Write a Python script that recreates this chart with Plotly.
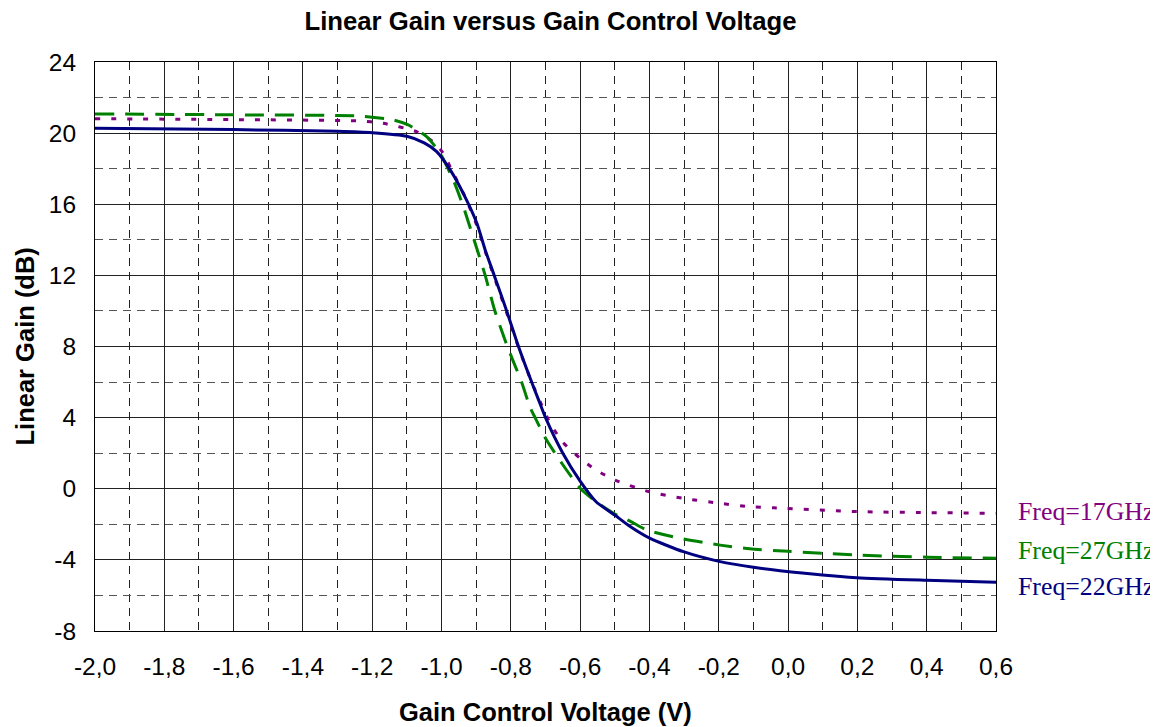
import plotly.graph_objects as go

# ---- data ----
x22 = [-2.0, -1.6, -1.3, -1.2, -1.1, -1.05, -1.014, -0.975, -0.937, -0.898, -0.874, -0.848, -0.812,
       -0.778, -0.74, -0.72, -0.7, -0.65, -0.6, -0.554, -0.5, -0.46, -0.398, -0.302, -0.196, -0.1,
       -0.023, 0.198, 0.4, 0.6]
y22 = [20.27, 20.2, 20.1, 20.02, 19.82, 19.45, 18.96, 17.93, 16.6, 14.93, 13.43, 12.0, 10.0,
       8.0, 6.0, 5.0, 4.0, 2.0, 0.43, -0.73, -1.48, -2.06, -2.79, -3.54, -4.1, -4.42,
       -4.61, -5.0, -5.15, -5.26]

x27 = [-2.0, -1.6, -1.235, -1.139, -1.096, -1.043, -1.004, -0.966, -0.937, -0.898, -0.874, -0.846,
       -0.81, -0.769, -0.745, -0.73, -0.7, -0.65, -0.6, -0.554, -0.5, -0.456, -0.408, -0.312,
       -0.196, -0.11, 0.0, 0.198, 0.4, 0.6]
y27 = [21.08, 21.03, 20.96, 20.74, 20.46, 19.8, 18.86, 17.36, 15.86, 13.5, 12.0, 10.0,
       8.0, 6.0, 4.6, 4.0, 2.84, 1.35, 0.03, -0.73, -1.42, -1.82, -2.32, -2.79,
       -3.17, -3.38, -3.52, -3.73, -3.85, -3.91]

x17 = [-2.0, -1.6, -1.235, -1.168, -1.072, -1.019, -0.995, -0.966, -0.932, -0.898, -0.874, -0.848,
       -0.812, -0.778, -0.74, -0.72, -0.687, -0.65, -0.6, -0.554, -0.5, -0.4, -0.302, -0.196,
       -0.11, -0.042, 0.208, 0.4, 0.6]
y17 = [20.81, 20.76, 20.68, 20.55, 20.08, 19.43, 18.86, 17.74, 16.42, 14.8, 13.35, 11.9,
       9.9, 7.95, 6.0, 5.1, 3.7, 2.62, 1.71, 1.05, 0.49, -0.17, -0.54, -0.82,
       -1.01, -1.07, -1.29, -1.34, -1.38]

xtick_vals = [-2.0, -1.8, -1.6, -1.4, -1.2, -1.0, -0.8, -0.6, -0.4, -0.2, 0.0, 0.2, 0.4, 0.6]
xtick_text = ["-2,0", "-1,8", "-1,6", "-1,4", "-1,2", "-1,0", "-0,8", "-0,6", "-0,4", "-0,2",
              "0,0", "0,2", "0,4", "0,6"]
ytick_vals = [-8, -4, 0, 4, 8, 12, 16, 20, 24]
ytick_text = ["-8", "-4", "0", "4", "8", "12", "16", "20", "24"]

series = [
    ("Freq=17GHz", x17, y17, "#800080", "5px,11px", -1.29),
    ("Freq=27GHz", x27, y27, "#008000", "19px,11px", -3.45),
    ("Freq=22GHz", x22, y22, "#000080", "solid", -5.5),
]

fig = go.Figure()
for name, xs, ys, col, dash, ly in series:
    fig.add_trace(go.Scatter(x=xs, y=ys, mode="lines", name=name,
                             line=dict(color=col, width=3, dash=dash, shape="spline", smoothing=0.6)))

annotations = []
for name, xs, ys, col, dash, ly in series:
    annotations.append(dict(text=name, xref="paper", yref="y", x=1.022, y=ly,
                            xanchor="left", yanchor="middle", showarrow=False,
                            font=dict(family="Liberation Serif", size=25.8, color=col)))

annotations.append(dict(text="<b>Gain Control Voltage (V)</b>", xref="paper", yref="paper",
                        x=0.5, y=-0.1424, xanchor="center", yanchor="middle", showarrow=False,
                        font=dict(family="Liberation Sans", size=25.5, color="black")))
annotations.append(dict(text="<b>Linear Gain (dB)</b>", xref="paper", yref="paper",
                        x=-0.0777, y=0.5, xanchor="center", yanchor="middle", textangle=-90,
                        showarrow=False, font=dict(family="Liberation Sans", size=25.5, color="black")))

fig.update_layout(
    width=1150, height=719,
    margin=dict(l=87, r=162, t=54, b=96),
    paper_bgcolor="white", plot_bgcolor="white",
    showlegend=False,
    title=dict(text="<b>Linear Gain versus Gain Control Voltage</b>", x=0.4717, xanchor="center",
               y=1 - 13 / 719, yanchor="middle", yref="container",
               font=dict(family="Liberation Sans", size=25.7, color="black")),
    annotations=annotations,
    font=dict(family="Liberation Sans", color="black"),
)

fig.update_xaxes(range=[-2.0, 0.6], tickvals=xtick_vals, ticktext=xtick_text,
                 tickfont=dict(size=24.5, color="black"), ticks="", ticklabelstandoff=14,
                 showgrid=True, gridcolor="#222222", gridwidth=1, zeroline=False,
                 showline=True, linecolor="black", linewidth=1, mirror=True,
                 minor=dict(dtick=0.1, tick0=-2.0, showgrid=True, gridcolor="#222222",
                            griddash="8px,6px", gridwidth=1, ticks=""))
fig.update_yaxes(range=[-8, 24], tickvals=ytick_vals, ticktext=ytick_text,
                 tickfont=dict(size=24.5, color="black"), ticks="", ticklabelstandoff=13,
                 showgrid=True, gridcolor="#222222", gridwidth=1, zeroline=False,
                 showline=True, linecolor="black", linewidth=1, mirror=True,
                 minor=dict(dtick=2, tick0=-8, showgrid=True, gridcolor="#555555",
                            griddash="8px,6px", gridwidth=1, ticks=""))

fig.write_html("out.html")
